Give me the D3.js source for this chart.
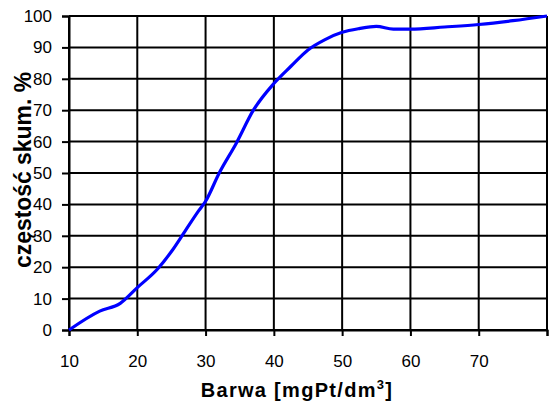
<!DOCTYPE html>
<html><head><meta charset="utf-8">
<script src="https://cdn.jsdelivr.net/npm/d3@7/dist/d3.min.js"></script>
<style>body{margin:0;background:#fff}svg{display:block}text{font-family:"Liberation Sans",Arial,sans-serif}</style>
</head><body><svg id="c" width="553" height="407"></svg>
<script>
const barwa = [10,14.5,17.5,20,23,25,27,29,30,32,34.5,37,40,42.5,45,47.5,50,52.5,55,57.5,60,65,70,75,80];
const czestosc = [0,6,8.5,13.5,19.5,25,31.5,38,41,50,59.5,70,78.5,84,89.2,92.5,94.8,96,96.7,95.8,95.8,96.5,97.3,98.5,100];
const xTicks = [10,20,30,40,50,60,70];
const yTicks = [0,10,20,30,40,50,60,70,80,90,100];
const data = barwa.map((b,i)=>({x:b,y:czestosc[i]}));

const svg = d3.select("#c");
const L=69, R=547, T=16, B=330;
const x = d3.scaleLinear().domain([10,80]).range([L,R]);
const y = d3.scaleLinear().domain([0,100]).range([B,T]);

// grid
svg.append("g").selectAll("line").data(d3.range(10,81,10)).join("line")
  .attr("x1",d=>x(d)).attr("x2",d=>x(d)).attr("y1",T).attr("y2",B)
  .attr("stroke","#000").attr("stroke-width",2);
svg.append("g").selectAll("line").data(yTicks).join("line")
  .attr("x1",L).attr("x2",R).attr("y1",d=>y(d)).attr("y2",d=>y(d))
  .attr("stroke","#000").attr("stroke-width",2);

// axes
const yAxis = svg.append("g").attr("transform",`translate(${L},0)`)
  .call(d3.axisLeft(y).tickValues(yTicks).tickSize(7).tickPadding(10));
const xAxis = svg.append("g").attr("transform",`translate(0,${B})`)
  .call(d3.axisBottom(x).tickValues(d3.range(10,81,10)).tickSize(6).tickPadding(19)
    .tickFormat(d=> xTicks.includes(d)? d : ""));
[yAxis,xAxis].forEach(a=>{
  a.select(".domain").attr("stroke","#000").attr("stroke-width",2);
  a.selectAll(".tick line").attr("stroke","#000").attr("stroke-width",2);
  a.selectAll(".tick text").attr("fill","#000").style("font-size","17px").style("font-family","'Liberation Sans',Arial,sans-serif");
});

// line
svg.append("path").datum(data)
  .attr("fill","none").attr("stroke","#0000ff").attr("stroke-width",3.2)
  .attr("stroke-linejoin","round")
  .attr("d", d3.line().x(d=>x(d.x)).y(d=>y(d.y)).curve(d3.curveMonotoneX));

// titles
const xt = svg.append("text").attr("x",297).attr("y",397).attr("text-anchor","middle")
  .style("font-size","20px").style("font-weight","bold").style("letter-spacing","1.3px");
xt.append("tspan").text("Barwa [mgPt/dm");
xt.append("tspan").attr("dy",-8).style("font-size","13px").text("3");
xt.append("tspan").attr("dy",8).text("]");

svg.append("text").attr("transform","translate(31,170) rotate(-90)").attr("text-anchor","middle")
  .attr("textLength",196).attr("lengthAdjust","spacingAndGlyphs")
  .style("font-size","23px").style("font-weight","bold")
  .text("częstość skum. %");
</script></body></html>
